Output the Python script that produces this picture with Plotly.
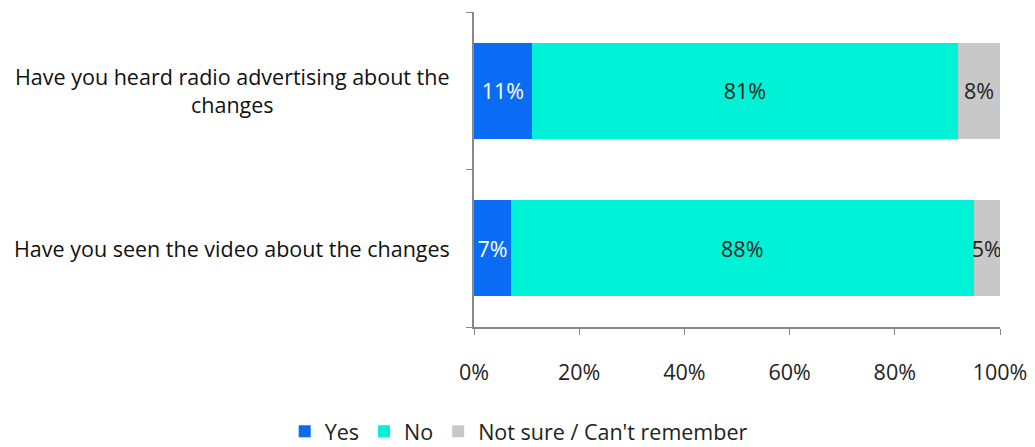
import plotly.graph_objects as go

categories = ["Have you heard radio advertising about the<br>changes",
              "Have you seen the video about the changes"]
yes_vals = [11, 7]
no_vals = [81, 88]
notsure_vals = [8, 5]
series_names = ["Yes", "No", "Not sure / Can't remember"]
colors = ["#0A6CF5", "#00F2D6", "#C8C8C8"]
text_colors = ["white", "#222222", "#222222"]
tick_vals = [0, 20, 40, 60, 80, 100]
tick_text = ["0%", "20%", "40%", "60%", "80%", "100%"]

FONT = "Open Sans"
FS = 21.5

fig = go.Figure()
for name, vals, c, tc in zip(series_names, [yes_vals, no_vals, notsure_vals], colors, text_colors):
    fig.add_trace(go.Bar(
        y=categories, x=vals, name=name, orientation="h",
        marker=dict(color=c, line=dict(width=0)),
        text=[f"{v}%" for v in vals], textposition="inside", textangle=0,
        insidetextanchor="middle", constraintext="none",
        textfont=dict(family=FONT, size=FS, color=tc),
        hoverinfo="skip",
    ))

for cat in categories:
    fig.add_annotation(x=0, xref="paper", xanchor="right", xshift=-22,
                       y=cat, yref="y", text=cat, showarrow=False, align="center",
                       font=dict(family=FONT, size=FS, color="#111111"))

fig.update_layout(
    barmode="stack", bargap=0.39,
    width=1035, height=447,
    margin=dict(l=474, r=35, t=12, b=120, autoexpand=False),
    plot_bgcolor="white", paper_bgcolor="white",
    font=dict(family=FONT, size=FS, color="#222222"),
    legend=dict(orientation="h", x=0.085, xanchor="center",
                yref="container", y=0.035, yanchor="middle",
                font=dict(family=FONT, size=FS, color="#222222"),
                traceorder="normal", itemwidth=30),
    showlegend=True,
)
fig.update_xaxes(range=[0, 100], tickvals=tick_vals, ticktext=tick_text,
                 showgrid=False, zeroline=False, showline=True, linecolor="#888888",
                 linewidth=1.5, ticks="outside", ticklen=6, tickcolor="#888888",
                 ticklabelstandoff=19, automargin=False,
                 tickfont=dict(family=FONT, size=FS, color="#222222"))
fig.update_yaxes(categoryorder="array", categoryarray=categories[::-1],
                 showgrid=False, zeroline=False, showline=True, linecolor="#888888",
                 linewidth=1.5, ticks="outside", ticklen=6, tickcolor="#888888",
                 tickson="boundaries", showticklabels=False, automargin=False)

fig.write_html("out.html")
